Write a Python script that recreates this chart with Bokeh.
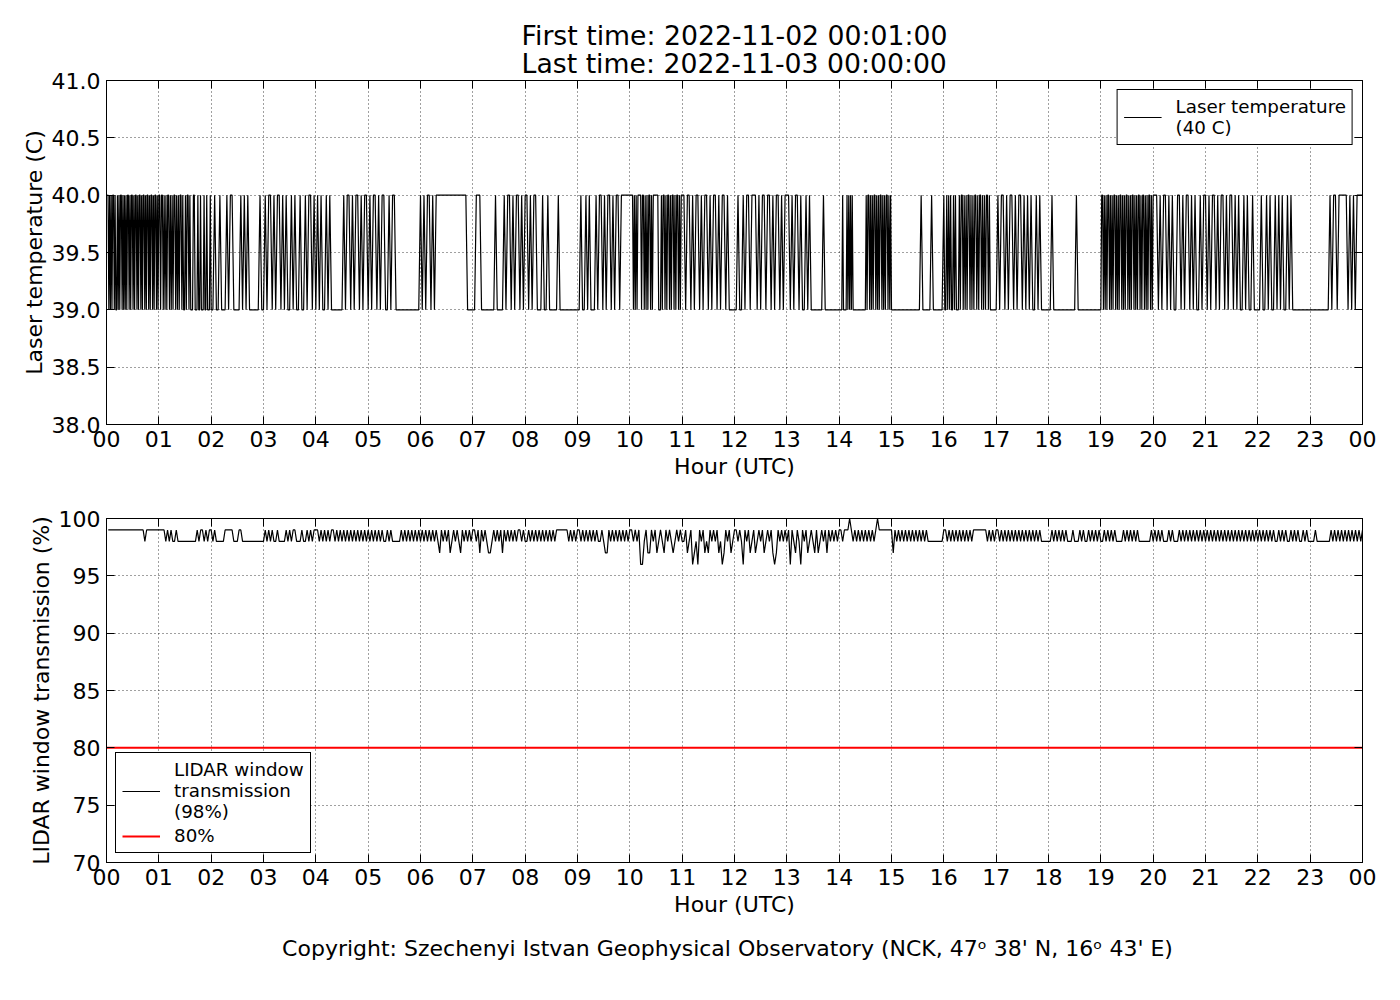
from bokeh.plotting import figure
from bokeh.models import Range1d, FixedTicker, LinearAxis, Title
from bokeh.layouts import column
from bokeh.embed import file_html
from bokeh.resources import INLINE

FONT = "DejaVu Sans"

# ---------------- data ----------------
first_time = "2022-11-02 00:01:00"
last_time = "2022-11-03 00:00:00"

hour_ticks = list(range(25))
hour_labels = ["00", "01", "02", "03", "04", "05", "06", "07", "08", "09", "10", "11",
               "12", "13", "14", "15", "16", "17", "18", "19", "20", "21", "22", "23", "00"]

temp_ticks = [38.0, 38.5, 39.0, 39.5, 40.0, 40.5, 41.0]
temp_tick_labels = ["38.0", "38.5", "39.0", "39.5", "40.0", "40.5", "41.0"]
trans_ticks = [70, 75, 80, 85, 90, 95, 100]
trans_tick_labels = ["70", "75", "80", "85", "90", "95", "100"]

# laser temperature, samples spread evenly over each hour: "1" = 40 C, "0" = 39 C
temp_levels = {"0": 39.0, "1": 40.0}
temp_hours = [
    "1101" "0101101" "0010" "10110101" "01011010" "110101101011010110101101011010110101",
    "1011010101101010110101" "0110100101101" "0001100" "01001000100100010",
    "010010001011000010101000000100",
    "101101011010100101001001011010",
    "101001010000000101101011010110",
    "101101011001011000000000000001",
    "010110101111111111111111110000",
    "011100000000100001011010110101",
    "101011000100100000100000000000",
    "0100101" "000" "101101011010110" "111111",
    "11101010111101101010110101" "11111" "000" "101101011010110101101011",
    "10110101101011010110101101" "0000",
    "0100" "10110111010110110101101011",
    "101011" "01001" "010" "00000" "0100" "0000000",
    "000100" "001010101000" "000000000000" "101101010110101011010101101010",
    "0000000000000000" "10000" "0100" "00001",
    "00101010010100" "0" "10110101011010101101011010101101" "0000000",
    "101101011010110101" "0100101" "00000",
    "010000000000000100000000000000",
    "110101011010101101010110101011010101101010110101101010110101",
    "110101101010011010110101001011",
    "0101101011010110101" "00101001" "000",
    "0100101001" "0101001010" "0000000000",
    "0000000000" "1011011" "111" "0101" "01111",
]

# LIDAR window transmission, 2-minute samples per hour
trans_levels = {"6": 96.0, "7": 97.0, "8": 98.0, "9": 99.0, "0": 100.0}
trans_hours = [
    "999999999999999999999899999999",
    "999" "89898898" "888888888" "8989989899",
    "8988888" "99999" "888" "99" "8888888888888",
    "989898898888989899888988989899",
    "989898989989898989898989898989",
    "898989898898988888989898989898",
    "989898989879898978989879898989",
    "989798987789898979898989899898",
    "898989898989898989" "999999" "898989",
    "989898989898898" "77" "9898989898989",
    "98989" "66" "8977" "9897" "89879" "89878" "9898",
    "897896786989787989897867989789",
    "989869897897898978989767989898",
    "969879869897898797898979898989",
    "989990989898989898989099999999",
    "798989898989898989898888888889",
    "9898989898989898" "99999999" "898989",
    "989898989898989898989898988888",
    "898989898988898889898898989898",
    "898989898888989898989888888898",
    "989898889898889898989898989898",
    "989898989898989898989898989898",
    "989898989889898988989898898988",
    "8898888888" "89898989898989898989",
]
threshold = 80.0

temp_label = "Laser temperature\n(40 C)"
trans_label = "LIDAR window\ntransmission\n(98%)"
threshold_label = "80%"
copyright_text = "Copyright: Szechenyi Istvan Geophysical Observatory (NCK, 47\u1d52  38' N, 16\u1d52  43' E)"


def expand(hours, levels):
    xs, ys = [], []
    for h, s in enumerate(hours):
        n = len(s)
        for i, c in enumerate(s):
            xs.append(h + (i + 1) / n)
            ys.append(levels[c])
    return xs, ys


temp_t, temp_v = expand(temp_hours, temp_levels)
trans_t, trans_v = expand(trans_hours, trans_levels)


# ---------------- styling helpers ----------------
def style(p, yticks, ylabels, ylabel):
    xt = FixedTicker(ticks=hour_ticks)
    yt = FixedTicker(ticks=yticks)
    xa = p.xaxis[0]
    ya = p.yaxis[0]
    xa.ticker = xt
    ya.ticker = yt
    xa.major_label_overrides = dict(zip(hour_ticks, hour_labels))
    ya.major_label_overrides = dict(zip(yticks, ylabels))
    xa.axis_label = "Hour (UTC)"
    ya.axis_label = ylabel
    for a in (xa, ya):
        a.major_label_text_font = FONT
        a.major_label_text_font_size = "22px"
        a.major_label_text_color = "black"
        a.axis_label_text_font = FONT
        a.axis_label_text_font_size = "22px"
        a.axis_label_text_font_style = "normal"
        a.axis_label_text_color = "black"
        a.major_tick_in = 8
        a.major_tick_out = 0
        a.major_tick_line_color = "black"
        a.minor_tick_line_color = None
        a.axis_line_color = "black"
    xa.major_label_standoff = 6
    xa.axis_label_standoff = 4
    ya.major_label_standoff = 6
    ya.axis_label_standoff = 2

    top = LinearAxis(ticker=FixedTicker(ticks=hour_ticks),
                     major_label_overrides={t: "" for t in hour_ticks},
                     major_label_text_font_size="0px", major_label_standoff=0,
                     major_tick_in=8, major_tick_out=0, minor_tick_line_color=None,
                     axis_line_color="black", major_tick_line_color="black")
    right = LinearAxis(ticker=FixedTicker(ticks=yticks),
                       major_label_overrides={t: "" for t in yticks},
                       major_label_text_font_size="0px", major_label_standoff=0,
                       major_tick_in=8, major_tick_out=0, minor_tick_line_color=None,
                       axis_line_color="black", major_tick_line_color="black")
    p.add_layout(top, "above")
    p.add_layout(right, "right")

    p.xgrid.ticker = FixedTicker(ticks=hour_ticks)
    p.ygrid.ticker = FixedTicker(ticks=yticks)
    for g in (p.xgrid, p.ygrid):
        g.grid_line_color = "black"
        g.grid_line_dash = "1 3"
        g.grid_line_width = 1
        g.grid_line_alpha = 0.75
    p.outline_line_color = "black"
    p.outline_line_width = 1
    p.background_fill_color = "white"
    p.border_fill_color = "white"


def style_legend(p, location):
    lg = p.legend[0]
    lg.location = location
    lg.label_text_font = FONT
    lg.label_text_font_size = "18.3px"
    lg.label_text_color = "black"
    lg.glyph_width = 38
    lg.label_standoff = 14
    lg.padding = 6
    lg.margin = 9
    lg.spacing = 3
    lg.border_line_color = "black"
    lg.border_line_width = 1
    lg.border_line_alpha = 1.0
    lg.background_fill_color = "white"
    lg.background_fill_alpha = 1.0


# ---------------- top panel ----------------
p1 = figure(width=1392, height=494, output_backend="svg", toolbar_location=None,
            title=None, x_range=Range1d(hour_ticks[0], hour_ticks[-1]),
            y_range=Range1d(temp_ticks[0], temp_ticks[-1]),
            min_border_left=106, min_border_right=30, min_border_top=80, min_border_bottom=70)
style(p1, temp_ticks, temp_tick_labels, "Laser temperature (C)")
p1.line(temp_t, temp_v, line_color="black", line_width=1.2, legend_label=temp_label)
style_legend(p1, "top_right")
p1.add_layout(Title(text="First time: " + first_time + "\nLast time: " + last_time,
                    align="center", text_font=FONT, text_font_size="26.7px",
                    text_font_style="normal", text_color="black", standoff=2,
                    text_line_height=0.93), "above")

# ---------------- bottom panel ----------------
p2 = figure(width=1392, height=488, output_backend="svg", toolbar_location=None,
            title=None, x_range=Range1d(hour_ticks[0], hour_ticks[-1]),
            y_range=Range1d(trans_ticks[0], trans_ticks[-1]),
            min_border_left=106, min_border_right=30, min_border_top=24, min_border_bottom=120)
style(p2, trans_ticks, trans_tick_labels, "LIDAR window transmission (%)")
p2.line(trans_t, trans_v, line_color="black", line_width=1.2, legend_label=trans_label)
p2.line([hour_ticks[0], hour_ticks[-1]], [threshold, threshold], line_color="#ff0000",
        line_width=2, legend_label=threshold_label)
style_legend(p2, "bottom_left")
p2.add_layout(Title(text=copyright_text, align="center", text_font=FONT,
                    text_font_size="22px", text_font_style="normal",
                    text_color="black", standoff=29), "below")

layout = column(p1, p2)
open("out.html", "w").write(file_html(layout, INLINE))
